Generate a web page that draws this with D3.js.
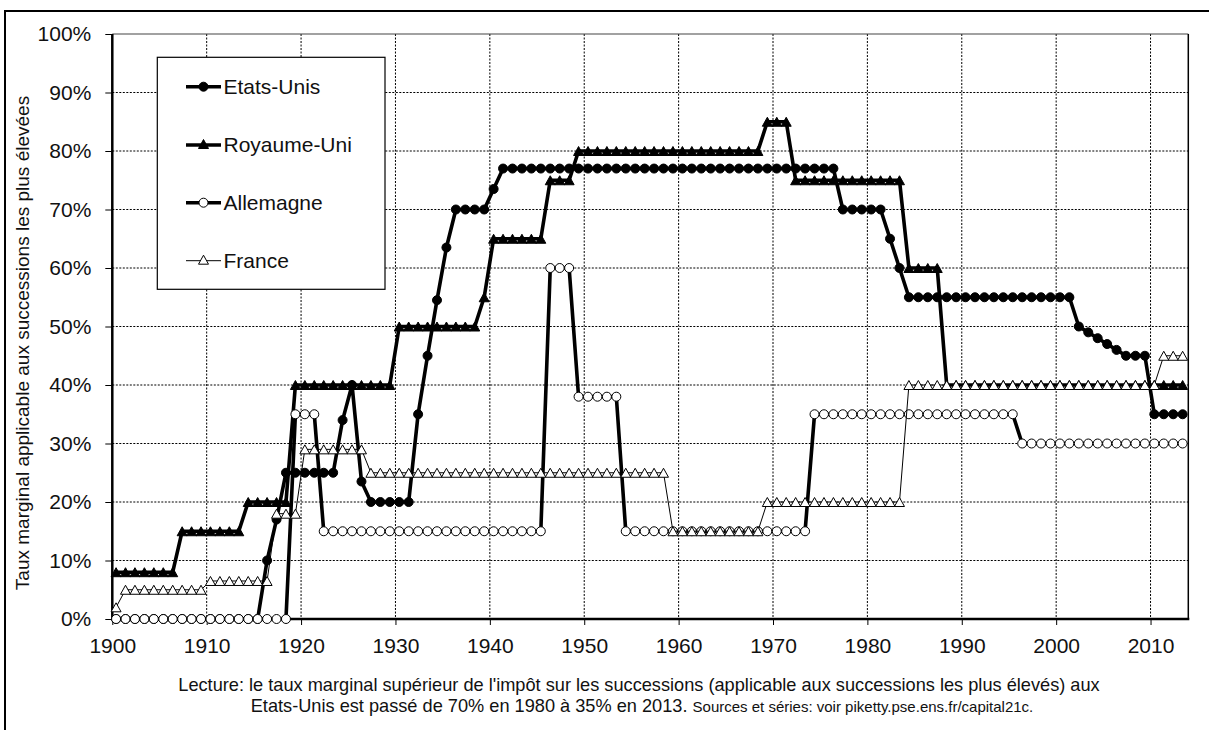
<!DOCTYPE html>
<html><head><meta charset="utf-8">
<script src="https://cdn.jsdelivr.net/npm/d3@7"></script>
<style>
body{margin:0;background:#fff;}
text{font-family:"Liberation Sans",Arial,sans-serif;fill:#111;}
</style>
</head><body>
<svg id="c" width="1209" height="730"></svg>
<script>
// ---- data (marginal top inheritance tax rate, %) ----
const years = d3.range(1900, 2014);
const xTickValues = [1900,1910,1920,1930,1940,1950,1960,1970,1980,1990,2000,2010];
const yTickValues = [0,10,20,30,40,50,60,70,80,90,100];
const seriesNames = ["Etats-Unis","Royaume-Uni","Allemagne","France"];

const etatsUnis = [
  0,0,0,0,0,0,0,0,0,0,
  0,0,0,0,0,0,10,17,25,25,
  25,25,25,25,34,40,23.5,20,20,20,
  20,20,35,45,54.5,63.5,70,70,70,70,
  73.5,77,77,77,77,77,77,77,77,77,
  77,77,77,77,77,77,77,77,77,77,
  77,77,77,77,77,77,77,77,77,77,
  77,77,77,77,77,77,77,70,70,70,
  70,70,65,60,55,55,55,55,55,55,
  55,55,55,55,55,55,55,55,55,55,
  55,55,50,49,48,47,46,45,45,45,
  35,35,35,35
];
const royaumeUni = [
  8,8,8,8,8,8,8,15,15,15,
  15,15,15,15,20,20,20,20,20,40,
  40,40,40,40,40,40,40,40,40,40,
  50,50,50,50,50,50,50,50,50,55,
  65,65,65,65,65,65,75,75,75,80,
  80,80,80,80,80,80,80,80,80,80,
  80,80,80,80,80,80,80,80,80,85,
  85,85,75,75,75,75,75,75,75,75,
  75,75,75,75,60,60,60,60,40,40,
  40,40,40,40,40,40,40,40,40,40,
  40,40,40,40,40,40,40,40,40,40,
  40,40,40,40
];
const allemagne = [
  0,0,0,0,0,0,0,0,0,0,
  0,0,0,0,0,0,0,0,0,35,
  35,35,15,15,15,15,15,15,15,15,
  15,15,15,15,15,15,15,15,15,15,
  15,15,15,15,15,15,60,60,60,38,
  38,38,38,38,15,15,15,15,15,15,
  15,15,15,15,15,15,15,15,15,15,
  15,15,15,15,35,35,35,35,35,35,
  35,35,35,35,35,35,35,35,35,35,
  35,35,35,35,35,35,30,30,30,30,
  30,30,30,30,30,30,30,30,30,30,
  30,30,30,30
];
const france = [
  2,5,5,5,5,5,5,5,5,5,
  6.5,6.5,6.5,6.5,6.5,6.5,6.5,18,18,18,
  29,29,29,29,29,29,29,25,25,25,
  25,25,25,25,25,25,25,25,25,25,
  25,25,25,25,25,25,25,25,25,25,
  25,25,25,25,25,25,25,25,25,15,
  15,15,15,15,15,15,15,15,15,20,
  20,20,20,20,20,20,20,20,20,20,
  20,20,20,20,40,40,40,40,40,40,
  40,40,40,40,40,40,40,40,40,40,
  40,40,40,40,40,40,40,40,40,40,
  40,45,45,45
];

const ylabel = "Taux marginal applicable aux successions les plus élevées";
const caption1 = "Lecture: le taux marginal supérieur de l'impôt sur les successions (applicable aux successions les plus élevés) aux";
const caption2a = "Etats-Unis est passé de 70% en 1980 à 35% en 2013. ";
const caption2b = "Sources et séries: voir piketty.pse.ens.fr/capital21c.";

// ---- layout ----
const svg = d3.select("#c");
const L = 112.3, R = 1188.3, T = 34, B = 619;
const catOffset = 0.4;
const x = d3.scaleLinear().domain([1900, 2014]).range([L, R]);
const y = d3.scaleLinear().domain([0, 100]).range([B, T]);

// outer frame (top & left visible)
svg.append("path").attr("d", `M5,730 L5,11 L1209,11`).attr("fill","none").attr("stroke","#000").attr("stroke-width",2);

// gridlines
const grid = svg.append("g");
grid.selectAll("line.h").data(yTickValues.filter(v => v > 0 && v < 100)).join("line")
  .attr("x1", L).attr("x2", R).attr("y1", d => y(d)).attr("y2", d => y(d))
  .attr("stroke","#000").attr("stroke-width",1).attr("stroke-dasharray","2,1.5");
grid.selectAll("line.v").data(xTickValues.filter(v => v > 1900)).join("line")
  .attr("x1", d => x(d)).attr("x2", d => x(d)).attr("y1", T).attr("y2", B)
  .attr("stroke","#000").attr("stroke-width",1).attr("stroke-dasharray","2,1.5");
// plot border top/right
svg.append("line").attr("x1",L).attr("x2",R).attr("y1",T).attr("y2",T).attr("stroke","#444").attr("stroke-width",1.2);
svg.append("line").attr("x1",R).attr("x2",R).attr("y1",T).attr("y2",B).attr("stroke","#000").attr("stroke-width",1.5);

// axes
const xAxis = d3.axisBottom(x).tickValues(xTickValues).tickFormat(d3.format("d")).tickSize(6).tickPadding(13);
const gx = svg.append("g").attr("transform", `translate(0,${B})`).call(xAxis);
const yAxis = d3.axisLeft(y).tickValues(yTickValues).tickFormat(d => d + "%").tickSize(7).tickPadding(14);
const gy = svg.append("g").attr("transform", `translate(${L},0)`).call(yAxis);
[gx, gy].forEach(g => {
  g.select(".domain").remove();
  g.selectAll(".tick line").attr("stroke","#000").attr("stroke-width",1);
  g.selectAll(".tick text").attr("font-size", 21).attr("fill","#111")
    .attr("font-family","'Liberation Sans', Arial, sans-serif");
});
svg.append("line").attr("x1",L).attr("x2",L).attr("y1",T).attr("y2",B+1).attr("stroke","#000").attr("stroke-width",2.5);
svg.append("line").attr("x1",L-1).attr("x2",R+1).attr("y1",B).attr("y2",B).attr("stroke","#000").attr("stroke-width",2.5);

// y label
svg.append("text").attr("transform", `translate(29,343) rotate(-90)`)
  .attr("text-anchor","middle").attr("font-size",19).text(ylabel);

// captions
svg.append("text").attr("x",639).attr("y",691).attr("text-anchor","middle").attr("font-size",18.2).text(caption1);
const c2 = svg.append("text").attr("x",642).attr("y",712).attr("text-anchor","middle").attr("font-size",18.2);
c2.append("tspan").text(caption2a);
c2.append("tspan").attr("font-size",15).text(caption2b);

// markers
function triPath(cx, cy, w, h) {
  return `M${cx},${cy - h/2} L${cx + w/2},${cy + h/2} L${cx - w/2},${cy + h/2} Z`;
}
const series = [
  {name: seriesNames[0], values: etatsUnis, lw: 3.6, shape: "circle", fill: "#000"},
  {name: seriesNames[1], values: royaumeUni, lw: 3.6, shape: "tri", fill: "#000"},
  {name: seriesNames[2], values: allemagne, lw: 3.6, shape: "circle", fill: "#fff"},
  {name: seriesNames[3], values: france, lw: 1, shape: "tri", fill: "#fff"}
];
const lineGen = d3.line().x(d => x(d[0] + catOffset)).y(d => y(d[1]));
series.forEach(s => {
  const pts = years.map((yr, i) => [yr, s.values[i]]);
  const g = svg.append("g");
  g.append("path").datum(pts).attr("d", lineGen).attr("fill","none")
    .attr("stroke","#000").attr("stroke-width", s.lw).attr("stroke-linejoin","round");
  if (s.shape === "circle") {
    g.selectAll("circle").data(pts).join("circle")
      .attr("cx", d => x(d[0] + catOffset)).attr("cy", d => y(d[1]))
      .attr("r", 4.5).attr("fill", s.fill).attr("stroke","#000").attr("stroke-width",1);
  } else {
    g.selectAll("path.m").data(pts).join("path").attr("class","m")
      .attr("d", d => triPath(x(d[0] + catOffset), y(d[1]), 10, 9))
      .attr("fill", s.fill).attr("stroke","#000").attr("stroke-width",1);
  }
});

// legend
const lg = svg.append("g");
lg.append("rect").attr("x",157.3).attr("y",57.3).attr("width",227.7).attr("height",232)
  .attr("fill","#fff").attr("stroke","#000").attr("stroke-width",1.2);
const rowY = [86.7, 145, 202.7, 260.7];
series.forEach((s, i) => {
  const cy = rowY[i];
  lg.append("line").attr("x1",186).attr("x2",221).attr("y1",cy).attr("y2",cy)
    .attr("stroke","#000").attr("stroke-width", s.lw);
  if (s.shape === "circle") {
    lg.append("circle").attr("cx",203.5).attr("cy",cy).attr("r",4.5).attr("fill",s.fill).attr("stroke","#000");
  } else {
    lg.append("path").attr("d", triPath(203.5, cy - 1, 10, 9)).attr("fill",s.fill).attr("stroke","#000");
  }
  lg.append("text").attr("x",223.5).attr("y",cy).attr("dy","0.35em").attr("font-size",21).text(s.name);
});
</script>
</body></html>
